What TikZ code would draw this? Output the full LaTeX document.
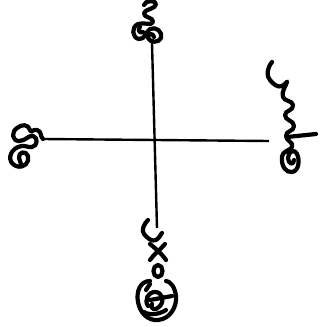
\documentclass[tikz,border=0pt]{standalone}
\begin{document}
\begin{tikzpicture}[x=1pt,y=-1pt,
  axis/.style={line width=2.4pt,black},
  curl/.style={line width=4.2pt,black,line cap=round,line join=round}]
\useasboundingbox (0,0) rectangle (324,327);
% cross
\draw[axis] (43,139) -- (269,141);
\draw[axis] (152,43) -- (157,228);
% top squiggle
\draw[curl] (144,5) .. controls (145,0) and (156,0) .. (156,4)
  .. controls (156,9) and (145,9) .. (144,13)
  .. controls (143,18) and (154,17) .. (153,22)
  .. controls (152,26) and (144,22) .. (138,24)
  .. controls (131,27) and (132,38) .. (139,39)
  .. controls (145,40) and (146,31) .. (150,29)
  .. controls (156,26) and (163,32) .. (161,38)
  .. controls (159,43) and (150,43) .. (148,38)
  .. controls (147,34) and (153,32) .. (154,37);
\draw[curl] (140,27) .. controls (137,30) and (140,34) .. (143,32);
% left squiggle
\draw[curl] (43,139) .. controls (40,137) and (42,131) .. (37,130)
  .. controls (32,129) and (31,134) .. (30,130)
  .. controls (28,124) and (22,124) .. (17,128)
  .. controls (11,132) and (12,141) .. (19,141)
  .. controls (26,141) and (28,135) .. (33,136)
  .. controls (38,137) and (38,146) .. (32,147)
  .. controls (28,148) and (24,144) .. (18,147)
  .. controls (9,151) and (7,162) .. (16,166)
  .. controls (24,169) and (30,162) .. (28,156)
  .. controls (26,150) and (18,152) .. (19,158) -- (21,164);
% right squiggle
\draw[curl] (272,62) .. controls (267,68) and (266,76) .. (270,80)
  .. controls (273,84) and (278,88) .. (282,86)
  .. controls (286,84) and (288,80) .. (287,82)
  .. controls (286,86) and (281,92) .. (283,97)
  .. controls (285,102) and (292,100) .. (293,105)
  .. controls (294,111) and (285,110) .. (285,115)
  .. controls (285,121) and (294,120) .. (294,126)
  .. controls (294,132) and (286,130) .. (286,136)
  .. controls (286,141) and (294,142) .. (292,147)
  .. controls (290,151) and (283,150) .. (282,157)
  .. controls (281,166) and (286,173) .. (292,172)
  .. controls (299,171) and (300,160) .. (297,154)
  .. controls (294,148) and (288,152) .. (288,158)
  .. controls (288,164) and (294,166) .. (294,160);
\draw[curl] (287,137) -- (316,134);
% bottom squiggle
\draw[curl] (148,220) .. controls (144,224) and (141,230) .. (144,234)
  .. controls (147,238) and (152,242) .. (156,240)
  .. controls (160,238) and (161,233) .. (162,233);
\draw[curl] (150,244) .. controls (155,248) and (162,254) .. (166,260);
\draw[curl] (165,244) .. controls (160,250) and (154,254) .. (150,260);
\draw[curl] (158,265) .. controls (152,265) and (152,277) .. (158,277)
  .. controls (164,277) and (164,265) .. (158,265);
\draw[curl] (150,281) .. controls (140,281) and (136,292) .. (138,302)
  .. controls (140,313) and (148,321) .. (158,320)
  .. controls (170,319) and (177,307) .. (176,296)
  .. controls (175,287) and (170,281) .. (166,281);
\draw[curl] (148,306) .. controls (144,300) and (148,292) .. (155,292)
  .. controls (162,292) and (165,300) .. (160,306)
  .. controls (156,311) and (150,310) .. (152,304);
\draw[curl] (146,290) -- (150,284);
\draw[curl] (150,300) -- (172,296);
\draw[curl] (144,312) .. controls (150,316) and (160,314) .. (166,310);
\end{tikzpicture}
\end{document}
